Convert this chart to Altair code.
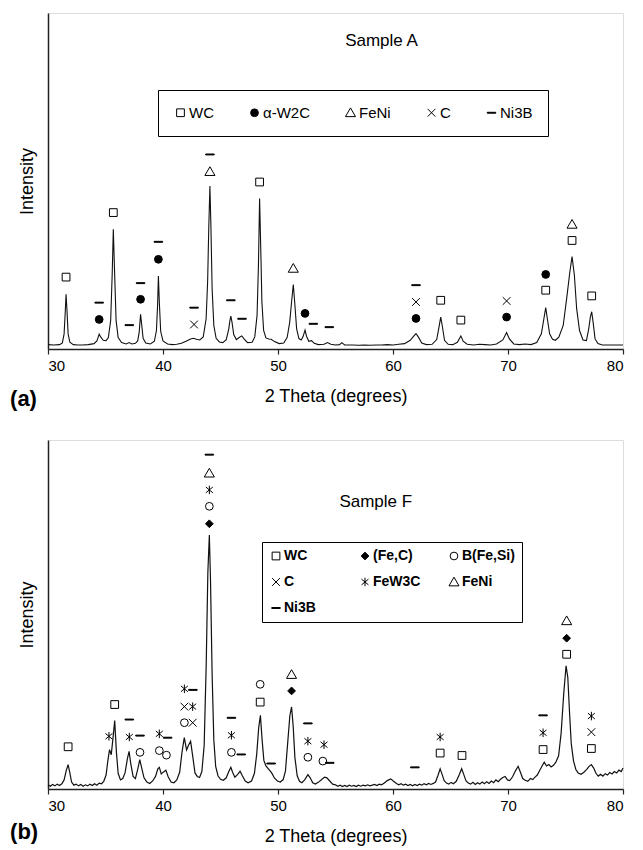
import altair as alt
import pandas as pd

FONT = "Liberation Sans"
TICKS = [30, 40, 50, 60, 70, 80]

# ---------------- Panel (a): Sample A ----------------
a_theta = [30.0, 30.5, 31.0, 31.25, 31.4, 31.5, 31.57, 31.65, 31.75, 31.9, 32.2, 32.6, 33.0, 33.5, 34.0,
           34.25, 34.38, 34.45, 34.58, 34.8, 35.05, 35.25, 35.45, 35.58, 35.68, 35.78, 35.92, 36.1, 36.4,
           36.8, 37.05, 37.3, 37.6, 37.8, 37.93, 38.05, 38.14, 38.27, 38.5, 38.9, 39.25, 39.43, 39.53, 39.6,
           39.68, 39.8, 40.0, 40.4, 40.8, 41.2, 41.6, 42.0, 42.4, 42.65, 42.9, 43.2, 43.5, 43.75, 43.88,
           43.98, 44.08, 44.17, 44.27, 44.42, 44.62, 44.9, 45.2, 45.5, 45.72, 45.82, 45.9, 46.0, 46.15,
           46.38, 46.62, 46.85, 47.05, 47.35, 47.75, 47.98, 48.18, 48.3, 48.4, 48.5, 48.6, 48.75, 48.95,
           49.2, 49.4, 49.7, 50.1, 50.5, 50.8, 51.02, 51.18, 51.33, 51.45, 51.62, 51.82, 52.02, 52.18,
           52.35, 52.48, 52.68, 52.92, 53.15, 53.5, 54.0, 54.3, 54.6, 55.0, 55.35, 55.55, 55.8, 56.5, 57.0,
           57.5, 58.0, 58.5, 59.0, 59.5, 60.0, 60.5, 61.0, 61.5, 61.8, 62.0, 62.2, 62.5, 62.9, 63.4, 63.8,
           64.0, 64.15, 64.28, 64.48, 64.8, 65.2, 65.6, 65.9, 66.1, 66.45, 67.0, 67.5, 68.0, 68.5, 69.0,
           69.55, 69.88, 70.12, 70.5, 71.0, 71.5, 72.0, 72.5, 72.9, 73.12, 73.28, 73.42, 73.62, 73.87,
           74.12, 74.42, 74.8, 75.1, 75.38, 75.57, 75.77, 75.97, 76.22, 76.52, 76.82, 77.02, 77.16, 77.28,
           77.4, 77.57, 77.82, 78.2, 78.6, 79.0, 79.5, 80.0]
a_int = [1.3, 1.2, 1.3, 1.8, 4.5, 11.0, 16.3, 11.5, 4.5, 2.0, 1.3, 1.2, 1.2, 1.3, 1.6,
         2.4, 3.7, 4.4, 3.6, 2.6, 2.5, 3.4, 8.5, 22.0, 35.6, 24.0, 8.5, 3.4, 1.9,
         1.5, 1.9, 1.5, 1.7, 2.4, 5.0, 10.3, 7.5, 3.2, 1.8, 1.5, 2.3, 5.5, 13.0, 21.7,
         14.0, 5.2, 2.4, 1.5, 1.3, 1.4, 1.7, 2.3, 3.0, 3.2, 2.9, 2.7, 3.6, 9.0, 20.0,
         36.0, 48.5, 36.0, 18.0, 7.0, 3.2, 2.1, 1.9, 2.8, 6.0, 8.5, 9.8, 8.0, 4.3,
         2.8, 3.4, 3.9, 3.0, 1.9, 2.0, 3.6, 10.0, 25.0, 44.8, 30.0, 14.0, 5.5, 3.3,
         3.0, 2.9, 2.2, 1.6, 1.8, 3.5, 8.0, 14.0, 19.2, 14.0, 6.0, 3.1, 2.7, 3.7,
         5.6, 3.8, 2.3, 2.5, 1.7, 1.3, 1.4, 1.9, 1.4, 1.2, 1.3, 1.9, 1.2, 1.2, 1.1,
         1.2, 1.1, 1.2, 1.2, 1.3, 1.2, 1.4, 1.6, 2.6, 3.8, 4.6, 3.6, 1.8, 1.3, 1.4, 2.8,
         6.5, 9.5, 7.0, 2.6, 1.4, 1.3, 2.0, 3.9, 2.3, 1.4, 1.2, 1.4, 1.3, 1.2, 1.5,
         2.7, 4.9, 3.0, 1.5, 1.3, 1.5, 1.3, 1.9, 4.5, 9.0, 12.3, 9.0, 4.5, 2.9,
         2.6, 3.5, 7.0, 15.0, 23.0, 27.5, 22.0, 12.0, 5.5, 2.7, 2.5, 6.0, 9.5, 11.1,
         8.0, 3.0, 1.6, 1.2, 1.2, 1.2, 1.2, 1.2]

a_phases = ["WC", "α-W2C", "FeNi", "C", "Ni3B"]
a_mk_theta = [31.57, 34.45, 34.45, 35.68, 37.07, 38.05, 38.05, 39.6, 39.6, 42.7, 42.7, 44.08, 44.08,
              45.9, 46.87, 48.4, 51.33, 52.35, 53.07, 54.46, 62.0, 62.0, 62.0, 64.15, 65.9, 69.88,
              69.88, 73.28, 73.28, 75.57, 75.57, 77.28]
a_mk_level = [21.4, 8.8, 13.8, 40.6, 7.1, 14.8, 19.6, 26.7, 31.9, 7.3, 12.3, 52.8, 57.9,
              14.5, 9.0, 49.7, 24.0, 10.6, 7.5, 6.5, 9.1, 14.0, 19.0, 14.5, 8.6, 9.5,
              14.3, 17.5, 22.2, 32.3, 37.1, 15.8]
a_mk_phase = ["WC", "α-W2C", "Ni3B", "WC", "Ni3B", "α-W2C", "Ni3B", "α-W2C", "Ni3B", "C", "Ni3B",
              "FeNi", "Ni3B", "Ni3B", "Ni3B", "WC", "FeNi", "α-W2C", "Ni3B", "Ni3B", "α-W2C", "C",
              "Ni3B", "WC", "WC", "α-W2C", "C", "WC", "α-W2C", "WC", "FeNi", "WC"]

# ---------------- Panel (b): Sample F ----------------
b_theta = [30.0, 30.2, 30.4, 30.6, 30.8, 31.0, 31.2, 31.4, 31.58, 31.75, 31.9, 32.05, 32.25, 32.45,
           32.65, 32.85, 33.05, 33.25, 33.45, 33.65, 33.85, 34.05, 34.25, 34.45, 34.65, 34.85, 35.05,
           35.2, 35.35, 35.5, 35.65, 35.8, 35.95, 36.1, 36.3, 36.5, 36.7, 36.9, 37.05, 37.2, 37.4,
           37.6, 37.8, 37.98, 38.15, 38.35, 38.6, 38.85, 39.1, 39.35, 39.55, 39.68, 39.85, 40.05,
           40.25, 40.45, 40.7, 40.95, 41.2, 41.45, 41.65, 41.85, 42.05, 42.2, 42.4, 42.58, 42.78,
           42.98, 43.18, 43.38, 43.58, 43.76, 43.9, 44.03, 44.13, 44.27, 44.42, 44.58, 44.78, 45.0,
           45.25, 45.5, 45.72, 45.9, 46.05, 46.25, 46.5, 46.7, 46.9, 47.15, 47.4, 47.7, 47.95, 48.15,
           48.32, 48.47, 48.62, 48.77, 48.95, 49.2, 49.45, 49.7, 49.95, 50.2, 50.45, 50.65, 50.85,
           51.03, 51.18, 51.32, 51.47, 51.67, 51.87, 52.07, 52.32, 52.6, 52.8, 53.02, 53.25, 53.5,
           53.8, 54.05, 54.25, 54.5, 54.75, 55.0, 55.2, 55.4, 55.6, 55.8, 56.0, 56.2, 56.4, 56.6,
           56.8, 57.0, 57.2, 57.4, 57.6, 57.8, 58.0, 58.2, 58.4, 58.6, 58.8, 59.0, 59.25, 59.5, 59.8,
           60.05, 60.3, 60.5, 60.7, 60.9, 61.1, 61.3, 61.5, 61.7, 61.9, 62.1, 62.3, 62.5, 62.7, 62.9,
           63.1, 63.3, 63.5, 63.7, 63.9, 64.1, 64.27, 64.45, 64.65, 64.85, 65.05, 65.25, 65.5, 65.75,
           65.97, 66.15, 66.35, 66.55, 66.75, 66.95, 67.15, 67.35, 67.55, 67.75, 67.95, 68.15, 68.35,
           68.55, 68.75, 68.95, 69.15, 69.35, 69.55, 69.75, 69.95, 70.15, 70.4, 70.65, 70.88, 71.08,
           71.28, 71.5, 71.72, 71.95, 72.15, 72.35, 72.55, 72.75, 72.95, 73.15, 73.35, 73.55, 73.75,
           73.95, 74.15, 74.4, 74.62, 74.85, 75.05, 75.2, 75.35, 75.5, 75.7, 75.9, 76.1, 76.35, 76.6,
           76.85, 77.05, 77.25, 77.45, 77.65, 77.85, 78.05, 78.25, 78.45, 78.65, 78.85, 79.05, 79.25,
           79.45, 79.65, 79.85, 80.0]
b_int = [1.2, 0.8, 1.3, 0.9, 1.4, 1.0, 1.5, 2.6, 5.2, 7.0, 4.6, 2.0, 1.1, 1.4,
         0.9, 1.3, 0.8, 1.2, 0.9, 1.4, 1.0, 1.5, 1.1, 1.7, 1.5, 2.2, 4.0,
         8.0, 11.3, 9.8, 14.5, 19.6, 10.5, 4.5, 2.6, 3.0, 4.6, 8.6, 10.8, 7.2, 3.6,
         3.0, 5.6, 8.4, 6.0, 3.2, 2.0, 1.6, 2.3, 3.6, 5.8, 6.2, 4.3, 4.9,
         5.4, 3.5, 2.0, 1.8, 2.6, 4.8, 10.5, 14.7, 11.2, 12.4, 13.7, 9.5, 4.6,
         3.6, 3.3, 5.0, 12.5, 36.0, 62.0, 72.8, 60.0, 33.0, 14.0, 6.5, 3.8, 2.8,
         2.5, 3.2, 5.0, 6.2, 4.8, 3.4, 4.2, 5.1, 3.8, 2.3, 1.8, 2.3, 4.5, 10.0,
         17.5, 21.1, 14.0, 8.2, 6.6, 5.6, 4.6, 3.1, 2.3, 2.0, 2.7, 5.2, 13.5,
         21.0, 23.5, 18.0, 9.0, 3.8, 2.2, 1.8, 2.6, 4.1, 3.2, 1.8, 1.4, 1.9,
         2.7, 3.4, 3.2, 2.3, 1.4, 1.2, 0.8, 1.1, 0.7, 1.0, 0.7, 1.1, 0.8, 1.0,
         0.7, 1.1, 0.8, 1.1, 0.9, 1.2, 0.9, 1.1, 1.3, 1.0, 1.4, 1.2, 1.7, 2.4, 2.9,
         2.2, 1.6, 1.2, 1.5, 1.1, 1.4, 1.0, 1.3, 0.9, 1.3, 1.0, 1.4, 1.1, 1.5, 1.2,
         1.6, 1.3, 1.6, 2.0, 3.8, 5.8, 4.2, 2.4, 1.7, 1.4, 1.9, 1.5, 2.2, 4.0,
         5.8, 4.2, 2.3, 1.7, 1.4, 1.9, 1.3, 1.8, 1.4, 2.0, 1.5, 2.1, 1.6,
         2.3, 1.8, 2.6, 2.1, 2.8, 3.3, 3.6, 2.6, 2.4, 3.5, 5.2, 6.5, 4.8,
         3.0, 2.5, 2.2, 3.0, 2.7, 3.4, 4.0, 5.3, 6.5, 7.7, 6.6, 7.0, 6.3,
         6.8, 7.6, 9.5, 16.0, 27.5, 35.3, 32.0, 22.0, 13.0, 8.0, 5.6, 4.6, 4.2, 4.8,
         5.6, 6.5, 7.0, 6.0, 4.5, 3.7, 4.2, 3.7, 4.4, 4.0, 4.7, 4.3, 5.0,
         4.6, 5.4, 5.0, 6.0]

b_phases = ["WC", "(Fe,C)", "B(Fe,Si)", "C", "FeW3C", "FeNi", "Ni3B"]
b_mk_theta = [31.75, 35.3, 35.8, 37.07, 37.07, 38.0, 38.0, 39.68, 39.68, 40.3, 40.4,
              41.86, 41.86, 41.86, 42.58, 42.58, 42.6, 44.03, 44.03, 44.03, 44.03, 44.03,
              45.95, 45.95, 45.95, 46.8, 48.45, 48.45, 49.4, 51.18, 51.18, 52.6, 52.6, 52.6,
              53.9, 54.0, 54.5, 61.9, 64.1, 64.1, 66.0, 73.05, 73.05, 73.05, 75.1, 75.1, 75.1,
              77.25, 77.25, 77.25]
b_mk_level = [12.1, 15.1, 24.2, 14.9, 19.9, 10.5, 15.3, 11.0, 15.8, 9.7, 14.7,
              19.0, 23.6, 28.7, 19.0, 23.6, 28.4, 76.0, 81.0, 85.7, 90.5, 95.8,
              10.5, 15.4, 20.4, 9.9, 24.9, 30.0, 7.3, 28.1, 32.8, 9.1, 13.7, 18.8,
              8.0, 12.7, 7.5, 6.2, 10.3, 14.9, 9.6, 11.3, 16.1, 21.1, 38.6, 43.2, 48.2,
              11.6, 16.3, 20.9]
b_mk_phase = ["WC", "FeW3C", "WC", "FeW3C", "Ni3B", "B(Fe,Si)", "Ni3B", "B(Fe,Si)", "FeW3C",
              "B(Fe,Si)", "Ni3B", "B(Fe,Si)", "C", "FeW3C", "C", "FeW3C", "Ni3B", "(Fe,C)",
              "B(Fe,Si)", "FeW3C", "FeNi", "Ni3B", "B(Fe,Si)", "FeW3C", "Ni3B", "Ni3B", "WC",
              "B(Fe,Si)", "Ni3B", "(Fe,C)", "FeNi", "B(Fe,Si)", "FeW3C", "Ni3B", "B(Fe,Si)",
              "FeW3C", "Ni3B", "Ni3B", "WC", "FeW3C", "WC", "WC", "FeW3C", "Ni3B", "WC",
              "(Fe,C)", "FeNi", "WC", "C", "FeW3C"]

# marker glyphs
DASH = "M-1.1,-0.12L1.1,-0.12L1.1,0.12L-1.1,0.12Z"
XMARK = "M-1,-1L1,1M1,-1L-1,1"
STAR = "M0,-1.1L0,1.1M-0.9,-0.75L0.9,0.75M-0.9,0.75L0.9,-0.75"
TRI = "M0,-1.25L1.3,1.0L-1.3,1.0Z"
SHAPE_OF = {"WC": "square", "α-W2C": "circle", "FeNi": TRI, "C": XMARK, "Ni3B": DASH,
            "(Fe,C)": "diamond", "B(Fe,Si)": "circle", "FeW3C": STAR}
FILL_OF = {"WC": "transparent", "α-W2C": "black", "FeNi": "transparent", "C": "transparent",
           "Ni3B": "black", "(Fe,C)": "black", "B(Fe,Si)": "transparent", "FeW3C": "transparent"}


def panel(theta, inten, mk_t, mk_l, mk_p, phases, legend_opts, height, sample, sample_xy, tag, tag_y, lw):
    curve = pd.DataFrame({"t": theta, "i": inten})
    marks = pd.DataFrame({"t": mk_t, "i": mk_l, "phase": mk_p})
    xenc = alt.X("t:Q", scale=alt.Scale(domain=[30, 80], nice=False, zero=False),
                 axis=alt.Axis(values=TICKS, title="2 Theta (degrees)", grid=False,
                               domainColor="#222", domainWidth=1.5, tickColor="#222", tickWidth=1.2,
                               tickSize=5, labelFont=FONT, labelFontSize=15, labelColor="black",
                               labelPadding=4, titleFont=FONT, titleFontSize=18,
                               titleFontWeight="normal", titleColor="black", titlePadding=14))
    yenc = alt.Y("i:Q", scale=alt.Scale(domain=[0, 100], nice=False, zero=False),
                 axis=alt.Axis(title="Intensity", labels=False, ticks=False, grid=False,
                               domainColor="#222", domainWidth=1.5, titleFont=FONT, titleFontSize=18,
                               titleFontWeight="normal", titleColor="black", titlePadding=12))
    line = alt.Chart(curve).mark_line(color="#111", strokeWidth=lw).encode(x=xenc, y=yenc)
    leg = alt.Legend(title=None, orient="none", strokeColor="black", fillColor="white",
                     labelFont=FONT, labelColor="black", symbolStrokeColor="black",
                     symbolStrokeWidth=1, symbolSize=60, symbolOpacity=1, **legend_opts)
    pts = alt.Chart(marks).mark_point(strokeWidth=1, opacity=1, size=60).encode(
        x=xenc, y=yenc,
        shape=alt.Shape("phase:N", scale=alt.Scale(domain=phases, range=[SHAPE_OF[p] for p in phases]),
                        legend=leg),
        fill=alt.Fill("phase:N", scale=alt.Scale(domain=phases, range=[FILL_OF[p] for p in phases]),
                      legend=leg),
        stroke=alt.Stroke("phase:N", scale=alt.Scale(domain=phases, range=["black"] * len(phases)),
                          legend=leg),
    )
    stxt = alt.Chart(pd.DataFrame({"t": [sample_xy[0]], "i": [sample_xy[1]], "s": [sample]})).mark_text(
        font=FONT, fontSize=17, color="black", align="center", baseline="middle").encode(
        x=xenc, y=yenc, text="s:N")
    ttxt = alt.Chart(pd.DataFrame({"t": [26.7], "i": [tag_y], "s": [tag]})).mark_text(
        font=FONT, fontSize=22, fontWeight="bold", color="black", align="left", baseline="middle").encode(
        x=xenc, y=yenc, text="s:N")
    return alt.layer(line, pts, stxt, ttxt).properties(width=575, height=height)


legA = dict(legendX=110, legendY=77, direction="horizontal", padding=15, labelFontSize=15,
            labelOffset=1, columnPadding=33)
legB = dict(legendX=214, legendY=102, direction="horizontal", columns=3, padding=7, labelFontSize=14,
            labelFontWeight="bold", labelOffset=1, columnPadding=20, rowPadding=12, gridAlign="all")

pa = panel(a_theta, a_int, a_mk_theta, a_mk_level, a_mk_phase, a_phases, legA, 336,
           "Sample A", (59.0, 91.7), "(a)", -14.9, 1.1)
pb = panel(b_theta, b_int, b_mk_theta, b_mk_level, b_mk_phase, b_phases, legB, 349,
           "Sample F", (58.5, 82.2), "(b)", -12.4, 1.2)

chart = alt.vconcat(pa, pb, spacing=28).resolve_scale(
    x="independent", y="independent", shape="independent", fill="independent", stroke="independent"
).resolve_legend(shape="independent", fill="independent", stroke="independent").properties(
    padding={"left": 1, "top": 4, "right": 5, "bottom": 0}
).configure_view(stroke="transparent").configure(font=FONT)

chart.save("out.html", embed_options={"renderer": "svg", "actions": False})
